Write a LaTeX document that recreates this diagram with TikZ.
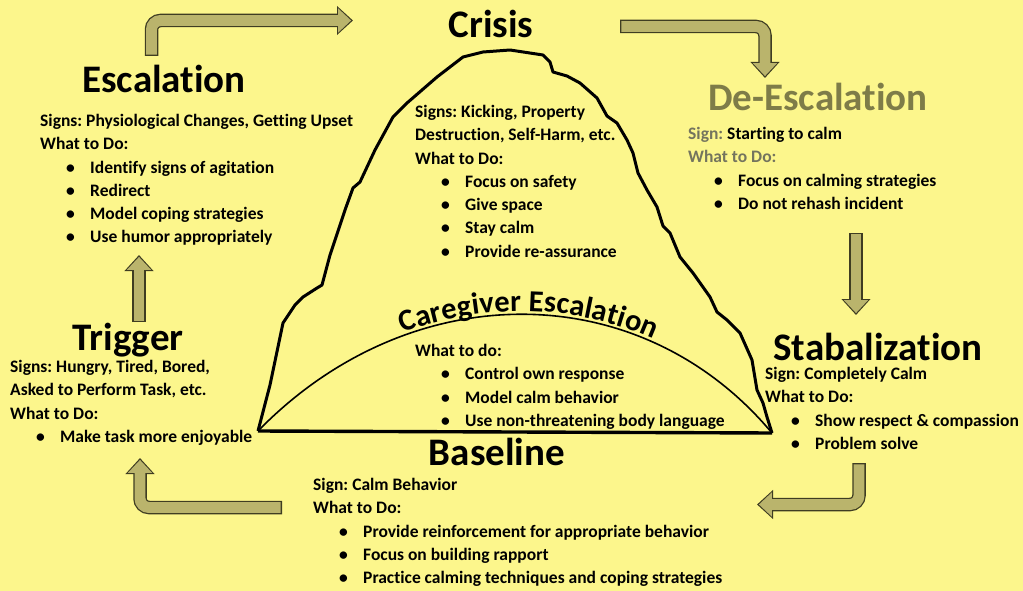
\documentclass[tikz,border=0pt]{standalone}
\usepackage{fontspec}
\setmainfont[Ligatures={NoCommon}]{Carlito}
\usetikzlibrary{arrows.meta,decorations.text}

\definecolor{paper}{HTML}{FCF68C}
\definecolor{olivefill}{HTML}{BAB46C}
\definecolor{olivedark}{HTML}{3F3D22}
\definecolor{olivetitle}{HTML}{7E7C48}
\definecolor{fadedtext}{HTML}{74745E}

\frenchspacing
\newcommand{\itm}[1]{\hspace*{26pt}\makebox[24pt][l]{\textbullet}#1}

\tikzset{
  stagetitle/.style={font=\fontsize{39}{39}\bfseries\selectfont, inner sep=0pt, anchor=base},
  stagebody/.style={font=\fontsize{17.5}{23.3}\bfseries\selectfont, align=left, inner sep=0pt, anchor=north west},
  flowout/.style={line width=13.5pt, color=olivedark, rounded corners=9pt,
                  -{Triangle[length=16pt,width=28pt]}},
  flowin/.style={line width=10.9pt, color=olivefill, rounded corners=9pt,
                 shorten <=1.3pt, shorten >=1.9pt, -{Triangle[length=13pt,width=23.5pt]}}
}

\begin{document}
\begin{tikzpicture}[x=1pt,y=-1pt]
  \useasboundingbox (0,0) rectangle (1023,591);
  \fill[paper] (0,0) rectangle (1023,591);

  % titles
  \node[stagetitle]                   (crisis)  at (491,38)  {Crisis};
  \node[stagetitle]                   (escal)   at (164,93)  {Escalation};
  \node[stagetitle, text=olivetitle]  (deesc)   at (818,111) {De-Escalation};
  \node[stagetitle]                   (trigger) at (128,350) {Trigger};
  \node[stagetitle]                   (stab)    at (878,360) {Stabalization};
  \node[stagetitle]                   (base)    at (497,465) {Baseline};

  % mountain
  \coordinate (lb) at (258,431);
  \coordinate (rb) at (772,433);
  \draw[line width=3pt, line join=round]
    (lb) -- (270,385) -- (283,323) -- (295,305) -- (303,297) -- (317,288)
    -- (322,285) -- (330,255) -- (345,210) -- (353,188) -- (360,182)
    -- (375,150) -- (393,117) -- (407,103) -- (437,77) -- (463,57)
    -- (483,52) -- (510,50) -- (543,55) -- (550,62) -- (553,72) -- (567,76)
    -- (580,83) -- (597,98) -- (607,116) -- (617,123) -- (627,140)
    -- (633,153) -- (638,173) -- (647,190) -- (657,207) -- (663,226)
    -- (670,233) -- (680,257) -- (693,273) -- (710,297) -- (717,312)
    -- (727,320) -- (740,333) -- (752,360) -- (757,390) -- (763,403)
    -- (767,417) -- (rb);
  \draw[line width=3.4pt] (lb) -- (rb);
  \draw[line width=1.6pt] (lb) .. controls (410,275) and (640,275) .. (rb);
  \path[decorate, decoration={text along path, text align={center, left indent=24pt},
        raise=3pt, text={|\fontsize{30.5}{30.5}\bfseries\selectfont|Caregiver Escalation}}]
    (lb) .. controls (410,275) and (640,275) .. (rb);

  % texts
  \node[stagebody] (escBody) at (40,114) {Signs: Physiological Changes, Getting Upset\\
    What to Do:\\ \itm{Identify signs of agitation}\\ \itm{Redirect}\\
    \itm{Model coping strategies}\\ \itm{Use humor appropriately}};
  \node[stagebody] (crisisBody) at (415,105) {Signs: Kicking, Property\\
    Destruction, Self-Harm, etc.\\ What to Do:\\ \itm{Focus on safety}\\
    \itm{Give space}\\ \itm{Stay calm}\\ \itm{Provide re-assurance}};
  \node[stagebody] (deescBody) at (688,127) {{\color{fadedtext}Sign:} Starting to calm\\
    {\color{fadedtext}What to Do:}\\ \itm{Focus on calming strategies}\\
    \itm{Do not rehash incident}};
  \node[stagebody] (trigBody) at (10,360) {Signs: Hungry, Tired, Bored,\\
    Asked to Perform Task, etc.\\ What to Do:\\ \itm{Make task more enjoyable}};
  \node[stagebody] (careBody) at (415,344) {What to do:\\ \itm{Control own response}\\
    \itm{Model calm behavior}\\ \itm{Use non-threatening body language}};
  \node[stagebody] (baseBody) at (313,478) {Sign: Calm Behavior\\ What to Do:\\
    \itm{Provide reinforcement for appropriate behavior}\\
    \itm{Focus on building rapport}\\
    \itm{Practice calming techniques and coping strategies}};
  \node[stagebody] (stabBody) at (765,367) {Sign: Completely Calm\\ What to Do:\\
    \itm{Show respect \& compassion}\\ \itm{Problem solve}};

  % cycle arrows
  \coordinate (a1s) at (151.5,56);  \coordinate (a1e) at (353,20.5);
  \coordinate (a2s) at (620,26.5);  \coordinate (a2e) at (765,78);
  \coordinate (a3s) at (856,233);   \coordinate (a3e) at (856,315);
  \coordinate (a4s) at (859,463);   \coordinate (a4e) at (757,504.5);
  \coordinate (a5s) at (282,507.5); \coordinate (a5e) at (140,458);
  \coordinate (a6s) at (139,322);   \coordinate (a6e) at (139,255);
  \draw[flowout] (a1s) |- (a1e);  \draw[flowin] (a1s) |- (a1e);
  \draw[flowout] (a2s) -| (a2e);  \draw[flowin] (a2s) -| (a2e);
  \draw[flowout] (a3s) -- (a3e);  \draw[flowin] (a3s) -- (a3e);
  \draw[flowout] (a4s) |- (a4e);  \draw[flowin] (a4s) |- (a4e);
  \draw[flowout] (a5s) -| (a5e);  \draw[flowin] (a5s) -| (a5e);
  \draw[flowout] (a6s) -- (a6e);  \draw[flowin] (a6s) -- (a6e);
\end{tikzpicture}
\end{document}
